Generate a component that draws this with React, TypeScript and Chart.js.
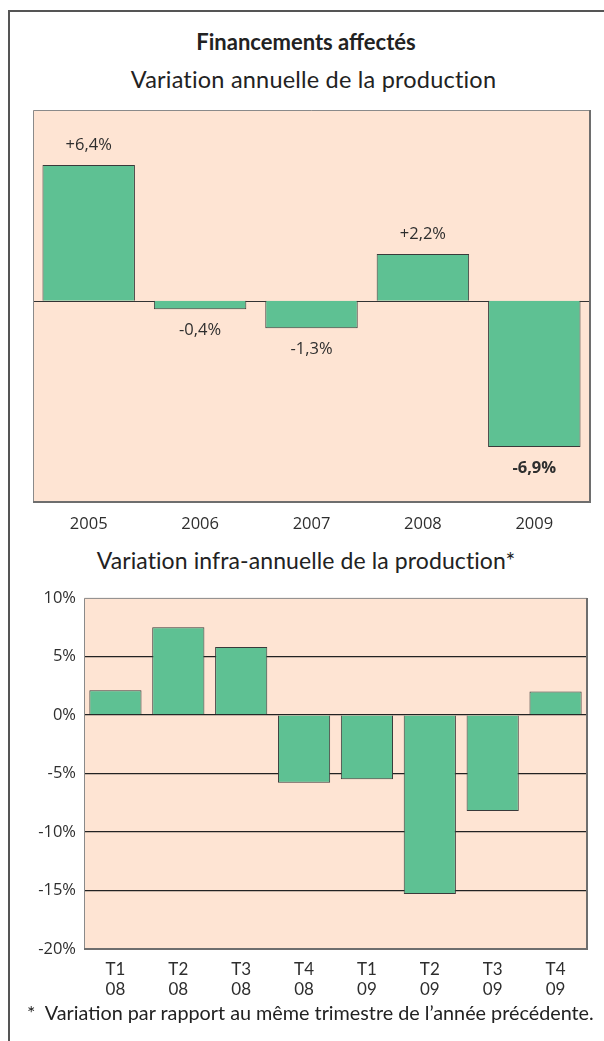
import React, { useEffect, useRef } from "react";
import { Chart, registerables } from "chart.js";

Chart.register(...registerables);

// ---- Data ----
const years = ["2005", "2006", "2007", "2008", "2009"];
const annualValues = [6.4, -0.4, -1.3, 2.2, -6.9];
const annualLabels = ["+6,4%", "-0,4%", "-1,3%", "+2,2%", "-6,9%"];
const annualBold = [false, false, false, false, true];

const quarterLabels = [
  ["T1", "08"],
  ["T2", "08"],
  ["T3", "08"],
  ["T4", "08"],
  ["T1", "09"],
  ["T2", "09"],
  ["T3", "09"],
  ["T4", "09"],
];
const quarterValues = [2.1, 7.5, 5.8, -5.8, -5.5, -15.3, -8.2, 2.0];
const quarterTickMin = -20;
const quarterTickMax = 10;
const quarterTickStep = 5;

// ---- Styles ----
const PINK = "#FEE4D3";
const GREEN = "#5EC193";
const BAR_BORDER = "#3a3a3a";
const TEXT = "#2e2e2e";
const TICK_FONT = "'Open Sans', 'Noto Sans', sans-serif";
const TITLE_FONT = "Lato, 'Noto Sans', sans-serif";

const plotFrame = {
  id: "plotFrame",
  beforeDraw(chart: any) {
    const { ctx, chartArea } = chart;
    const { left, top, right, bottom } = chartArea;
    ctx.save();
    ctx.fillStyle = PINK;
    ctx.fillRect(left, top, right - left, bottom - top);
    ctx.restore();
  },
  afterDraw(chart: any) {
    const { ctx, chartArea } = chart;
    const { left, top, right, bottom } = chartArea;
    ctx.save();
    ctx.strokeStyle = "#8a8a8a";
    ctx.lineWidth = 1;
    ctx.beginPath();
    ctx.moveTo(left + 0.5, bottom);
    ctx.lineTo(left + 0.5, top + 0.5);
    ctx.lineTo(right, top + 0.5);
    ctx.stroke();
    ctx.strokeStyle = "#6e6e6e";
    ctx.lineWidth = 2;
    ctx.beginPath();
    ctx.moveTo(right, top);
    ctx.lineTo(right, bottom);
    ctx.lineTo(left, bottom);
    ctx.stroke();
    ctx.restore();
  },
};

const zeroLine = {
  id: "zeroLine",
  beforeDatasetsDraw(chart: any) {
    const { ctx, chartArea, scales } = chart;
    const y = Math.round(scales.y.getPixelForValue(0)) + 0.5;
    ctx.save();
    ctx.strokeStyle = "#333";
    ctx.lineWidth = 1;
    ctx.beginPath();
    ctx.moveTo(chartArea.left, y);
    ctx.lineTo(chartArea.right, y);
    ctx.stroke();
    ctx.restore();
  },
};

const valueLabels = {
  id: "valueLabels",
  afterDatasetsDraw(chart: any) {
    const { ctx } = chart;
    const meta = chart.getDatasetMeta(0);
    ctx.save();
    ctx.fillStyle = TEXT;
    ctx.textAlign = "center";
    ctx.textBaseline = "middle";
    meta.data.forEach((el: any, i: number) => {
      const v = annualValues[i];
      ctx.font = `${annualBold[i] ? "bold " : ""}16.5px ${TICK_FONT}`;
      const y = v >= 0 ? el.y - 20 : el.y + 21;
      ctx.fillText(annualLabels[i], el.x, y);
    });
    ctx.restore();
  },
};

function AnnualChart() {
  const ref = useRef<HTMLCanvasElement>(null);
  useEffect(() => {
    const chart = new Chart(ref.current!, {
      type: "bar",
      data: {
        labels: years,
        datasets: [
          {
            data: annualValues,
            backgroundColor: GREEN,
            borderColor: BAR_BORDER,
            borderWidth: 1,
            barPercentage: 0.83,
            categoryPercentage: 1,
          },
        ],
      },
      options: {
        responsive: false,
        animation: false,
        layout: { padding: { left: 33, right: 14, top: 10, bottom: 0 } },
        plugins: { legend: { display: false }, tooltip: { enabled: false } },
        scales: {
          x: {
            grid: { display: false },
            border: { display: false },
            ticks: {
              color: TEXT,
              font: { family: TICK_FONT, size: 16.5, lineHeight: 1.2 },
              padding: 4,
            },
            afterFit: (s: any) => {
              s.height = 38;
            },
          },
          y: {
            display: false,
            min: -9.5,
            max: 9,
          },
        },
      },
      plugins: [plotFrame, zeroLine, valueLabels],
    });
    return () => chart.destroy();
  }, []);
  return (
    <canvas
      ref={ref}
      width={604}
      height={440}
      style={{ position: "absolute", left: 0, top: 100, width: 604, height: 440 }}
    />
  );
}

function QuarterChart() {
  const ref = useRef<HTMLCanvasElement>(null);
  useEffect(() => {
    const chart = new Chart(ref.current!, {
      type: "bar",
      data: {
        labels: quarterLabels,
        datasets: [
          {
            data: quarterValues,
            backgroundColor: GREEN,
            borderColor: BAR_BORDER,
            borderWidth: 1,
            barPercentage: 0.83,
            categoryPercentage: 1,
          },
        ],
      },
      options: {
        responsive: false,
        animation: false,
        layout: { padding: { left: 0, right: 17, top: 10, bottom: 0 } },
        plugins: { legend: { display: false }, tooltip: { enabled: false } },
        scales: {
          x: {
            grid: { display: false },
            border: { display: false },
            ticks: {
              color: TEXT,
              font: { family: TITLE_FONT, size: 17, lineHeight: 1.18 },
              padding: 2,
            },
            afterFit: (s: any) => {
              s.height = 61;
            },
          },
          y: {
            min: quarterTickMin,
            max: quarterTickMax,
            border: { display: false },
            grid: {
              drawTicks: false,
              lineWidth: 1.3,
              color: (c: any) =>
                c.tick && c.tick.value <= 5 && c.tick.value >= -15 ? "#222" : "rgba(0,0,0,0)",
            },
            ticks: {
              stepSize: quarterTickStep,
              color: TEXT,
              font: { family: TICK_FONT, size: 16.5 },
              padding: 8,
              callback: (v: any) => `${v}%`,
            },
            afterFit: (s: any) => {
              s.width = 84;
            },
          },
        },
      },
      plugins: [plotFrame],
    });
    return () => chart.destroy();
  }, []);
  return (
    <canvas
      ref={ref}
      width={604}
      height={430}
      style={{ position: "absolute", left: 0, top: 580, width: 604, height: 430 }}
    />
  );
}

export default function App() {
  return (
    <div
      style={{
        position: "absolute",
        left: 0,
        top: 0,
        width: 604,
        height: 1041,
        overflow: "hidden",
        background: "#fff",
      }}
    >
      <div
        style={{
          position: "absolute",
          left: 8,
          top: 10,
          width: 596,
          height: 1031,
          borderLeft: "2px solid #555",
          borderTop: "2px solid #555",
        }}
      />
      <div
        style={{
          position: "absolute",
          left: 0,
          top: 28,
          width: 612,
          textAlign: "center",
          fontFamily: TITLE_FONT,
          fontWeight: 700,
          fontSize: 22,
          color: "#222",
        }}
      >
        Financements affectés
      </div>
      <div
        style={{
          position: "absolute",
          left: 0,
          top: 65,
          width: 627,
          textAlign: "center",
          fontFamily: TITLE_FONT,
          fontSize: 23.5,
          letterSpacing: 0.2,
          color: "#222",
        }}
      >
        Variation annuelle de la production
      </div>
      <AnnualChart />
      <div
        style={{
          position: "absolute",
          left: 0,
          top: 546,
          width: 612,
          textAlign: "center",
          fontFamily: TITLE_FONT,
          fontSize: 23,
          letterSpacing: 0.1,
          color: "#222",
        }}
      >
        Variation infra-annuelle de la production*
      </div>
      <QuarterChart />
      <div
        style={{
          position: "absolute",
          left: 27,
          top: 1000,
          whiteSpace: "nowrap",
          fontFamily: TITLE_FONT,
          fontSize: 19.8,
          color: "#222",
        }}
      >
        *&nbsp; Variation par rapport au même trimestre de l’année précédente.
      </div>
    </div>
  );
}
